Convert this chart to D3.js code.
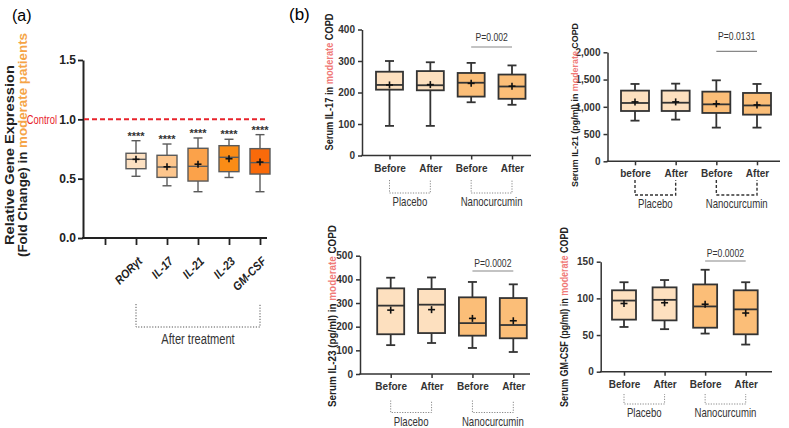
<!DOCTYPE html>
<html><head><meta charset="utf-8">
<script src="https://cdn.jsdelivr.net/npm/d3@7"></script>
<style>
body{margin:0;background:#fff;}
svg{display:block;}
</style></head>
<body><svg id="c" width="789" height="428"></svg>
<script>
// ---------- Panel (a): relative gene expression ----------
const geneCats = ["RORγt","IL-17","IL-21","IL-23","GM-CSF"];
const geneMin  = [0.52,0.44,0.39,0.51,0.39];
const geneQ1   = [0.584,0.511,0.48,0.559,0.539];
const geneMed  = [0.663,0.598,0.604,0.68,0.635];
const geneQ3   = [0.714,0.697,0.756,0.778,0.753];
const geneMax  = [0.82,0.792,0.843,0.832,0.871];
const geneMean = [0.663,0.60,0.622,0.668,0.64];
const geneSig  = ["****","****","****","****","****"];
const geneTicks = [0,0.5,1.0,1.5];
const controlLevel = 1.0;

// ---------- Panel (b): serum cytokines ----------
const groupNames = ["Placebo","Nanocurcumin"];
const timeLabels = ["Before","After","Before","After"];
const timeLabelsIL21 = ["before","After","Before","After"];

const il17Min  = [94,94,169,161];
const il17Q1   = [209,207,187,180];
const il17Med  = [224,223,231,219];
const il17Q3   = [266,268,262,257];
const il17Max  = [300,296,294,286];
const il17Mean = [224,225,229,220];
const il17Ticks = [0,100,200,300,400];
const il17P = "P=0.002";

const il21Min  = [746,765,618,618];
const il21Q1   = [923,923,887,856];
const il21Med  = [1070,1075,1045,1025];
const il21Q3   = [1297,1297,1278,1254];
const il21Max  = [1419,1425,1486,1419];
const il21Mean = [1090,1090,1055,1035];
const il21Ticks = [0,500,1000,1500,2000];
const il21P = "P=0.0131";

const il23Min  = [122,131,110,93];
const il23Q1   = [168,173,162,151];
const il23Med  = [289,293,215,207];
const il23Q3   = [362,359,324,321];
const il23Max  = [407,408,389,379];
const il23Mean = [270,272,235,225];
const il23Ticks = [0,100,200,300,400,500];
const il23P = "P=0.0002";

const gmMin  = [61,58,52,37];
const gmQ1   = [71,70,60,51];
const gmMed  = [97,98,89,85];
const gmQ3   = [111,115,119,111];
const gmMax  = [122,125,139,122];
const gmMean = [93,94,92,80];
const gmTicks = [0,50,100,150];
const gmP = "P=0.0002";

// ---------- styles ----------
const geneColors = ["#FDE1C2","#FDC68D","#FBA24A","#FA8C16","#F96A0A"];
const placeboColor = "#FDE0BF", nanoColor = "#FBBE78";
const salmon = "#F07A78", orangeLbl = "#F5A447";
const SANS = "'Liberation Sans',Arial,sans-serif";

const svg = d3.select("#c");

function narrow(g, x, y, txt, size, sx, fill, anchor){
  return g.append("text").attr("transform",`translate(${x},${y}) scale(${sx},1)`)
    .attr("text-anchor",anchor||"middle").attr("font-family",SANS).attr("font-size",size)
    .attr("fill",fill||"#333").text(txt);
}

function drawBox(g, cx, w, capW, y, mn, q1, md, q3, mx, mean, fill, stroke, sw, plusSize){
  g.append("line").attr("x1",cx).attr("x2",cx).attr("y1",y(mx)).attr("y2",y(q3)).attr("stroke",stroke).attr("stroke-width",sw);
  g.append("line").attr("x1",cx).attr("x2",cx).attr("y1",y(q1)).attr("y2",y(mn)).attr("stroke",stroke).attr("stroke-width",sw);
  g.append("line").attr("x1",cx-capW/2).attr("x2",cx+capW/2).attr("y1",y(mx)).attr("y2",y(mx)).attr("stroke",stroke).attr("stroke-width",sw);
  g.append("line").attr("x1",cx-capW/2).attr("x2",cx+capW/2).attr("y1",y(mn)).attr("y2",y(mn)).attr("stroke",stroke).attr("stroke-width",sw);
  g.append("rect").attr("x",cx-w/2).attr("y",y(q3)).attr("width",w).attr("height",y(q1)-y(q3)).attr("fill",fill).attr("stroke",stroke).attr("stroke-width",sw);
  g.append("line").attr("x1",cx-w/2).attr("x2",cx+w/2).attr("y1",y(md)).attr("y2",y(md)).attr("stroke",stroke).attr("stroke-width",sw);
  const my = y(mean);
  g.append("line").attr("x1",cx-plusSize).attr("x2",cx+plusSize).attr("y1",my).attr("y2",my).attr("stroke","#111").attr("stroke-width",1.6);
  g.append("line").attr("x1",cx).attr("x2",cx).attr("y1",my-plusSize).attr("y2",my+plusSize).attr("stroke","#111").attr("stroke-width",1.6);
}

// ================= Panel (a) =================
svg.append("text").attr("x",12).attr("y",21).attr("font-family",SANS).attr("font-size",16).text("(a)");
{
  const g = svg.append("g");
  const y = d3.scaleLinear().domain([0,1.5]).range([238,60]);
  const x = d3.scalePoint().domain(["", ...geneCats]).range([105,260]);
  const ya = g.append("g").attr("transform","translate(83,0)")
    .call(d3.axisLeft(y).tickValues(geneTicks).tickFormat(d3.format(".1f")).tickSize(5).tickPadding(2).tickSizeOuter(0));
  ya.select(".domain").attr("stroke","#222").attr("stroke-width",2);
  ya.selectAll(".tick line").attr("stroke","#222").attr("stroke-width",1.8);
  ya.selectAll(".tick text").attr("font-family",SANS).attr("font-weight","bold").attr("font-size",12).attr("fill","#222");
  const xa = g.append("g").attr("transform","translate(0,238)")
    .call(d3.axisBottom(x).tickSize(7).tickFormat(""));
  xa.select(".domain").remove();
  xa.selectAll(".tick line").attr("stroke","#222").attr("stroke-width",1.8);
  g.append("line").attr("x1",82).attr("x2",267).attr("y1",238).attr("y2",238).attr("stroke","#222").attr("stroke-width",2);
  geneCats.forEach(c=>{
    g.append("text").attr("transform",`translate(${x(c)+4},${259}) rotate(-45) scale(0.88,1)`)
      .attr("text-anchor","end").attr("dy","0.35em")
      .attr("font-family",SANS).attr("font-weight","bold").attr("font-style","italic").attr("font-size",12).attr("fill","#222").text(c);
  });
  g.append("line").attr("x1",84).attr("x2",267).attr("y1",y(controlLevel)).attr("y2",y(controlLevel))
    .attr("stroke","#E8232B").attr("stroke-width",2).attr("stroke-dasharray","5,3");
  narrow(g, 57, y(controlLevel)+4.5, "Control", 13, 0.72, "#E8232B", "end");
  geneCats.forEach((c,i)=>{
    drawBox(g, x(c), 20, 9, y, geneMin[i], geneQ1[i], geneMed[i], geneQ3[i], geneMax[i], geneMean[i], geneColors[i], "#5a5a5a", 1.4, 3.5);
    g.append("text").attr("x",x(c)).attr("y",y(geneMax[i])-1).attr("text-anchor","middle")
      .attr("font-family",SANS).attr("font-weight","bold").attr("font-size",11).attr("fill","#333").text(geneSig[i]);
  });
  g.append("text").attr("transform","translate(14,155) rotate(-90)").attr("text-anchor","middle")
    .attr("font-family",SANS).attr("font-weight","bold").attr("font-size",12.5).attr("fill","#222")
    .attr("textLength",180).attr("lengthAdjust","spacingAndGlyphs").text("Relative Gene Expression");
  const t2 = g.append("text").attr("transform","translate(27,145) rotate(-90)").attr("text-anchor","middle")
    .attr("font-family",SANS).attr("font-weight","bold").attr("font-size",12.5).attr("fill","#222")
    .attr("textLength",224).attr("lengthAdjust","spacingAndGlyphs");
  t2.append("tspan").text("(Fold Change) in ");
  t2.append("tspan").attr("fill",orangeLbl).text("moderate patients");
  const x0 = x(geneCats[0]), x1 = x(geneCats[geneCats.length-1]);
  g.append("path").attr("d",`M${x0},304V327H${x1}V304`).attr("fill","none").attr("stroke","#555").attr("stroke-width",1).attr("stroke-dasharray","1.2,1.6");
  narrow(g, (x0+x1)/2, 344, "After treatment", 15, 0.74, "#333");
}

// ================= Panel (b) =================
svg.append("text").attr("x",289).attr("y",20).attr("font-family",SANS).attr("font-size",17).text("(b)");

function panelB(o){
  const g = svg.append("g");
  const y = d3.scaleLinear().domain([0,o.ticks[o.ticks.length-1]]).range([o.y0,o.yTop]);
  const keys = o.labels.map((l,i)=>i);
  const x = d3.scalePoint().domain(keys).range([o.xFirst,o.xLast]);
  const ya = g.append("g").attr("transform",`translate(${o.axisX},0)`)
    .call(d3.axisLeft(y).tickValues(o.ticks).tickSize(4).tickPadding(3).tickSizeOuter(0));
  ya.select(".domain").attr("stroke","#333").attr("stroke-width",1.5);
  ya.selectAll(".tick line").attr("stroke","#333").attr("stroke-width",1.5);
  ya.selectAll(".tick text").attr("font-family",SANS).attr("font-weight","bold").attr("font-size",10).attr("fill","#333");
  const xa = g.append("g").attr("transform",`translate(0,${o.y0})`)
    .call(d3.axisBottom(x).tickSize(4).tickFormat(i=>o.labels[i]).tickPadding(5));
  xa.select(".domain").remove();
  xa.selectAll(".tick line").attr("stroke","#333").attr("stroke-width",1.5);
  xa.selectAll(".tick text").attr("font-family",SANS).attr("font-weight","bold").attr("font-size",10).attr("fill","#333");
  g.append("line").attr("x1",o.axisX-0.75).attr("x2",o.xEnd).attr("y1",o.y0).attr("y2",o.y0).attr("stroke","#333").attr("stroke-width",1.5);
  keys.forEach(i=>{
    drawBox(g, x(i), o.boxW, 9, y, o.mn[i], o.q1[i], o.md[i], o.q3[i], o.mx[i], o.mean[i], i<2?placeboColor:nanoColor, "#333", 1.8, 3.5);
  });
  g.append("line").attr("x1",x(2)).attr("x2",x(3)).attr("y1",o.pY).attr("y2",o.pY).attr("stroke","#888").attr("stroke-width",1.2);
  narrow(g, (x(2)+x(3))/2, o.pY-o.pGap, o.p, 11.5, 0.75, "#333");
  [[0,1],[2,3]].forEach((pr,k)=>{
    const a=x(pr[0]), b=x(pr[1]);
    g.append("path").attr("d",`M${a},${o.bTop}V${o.bBot}H${b}V${o.bTop}`).attr("fill","none")
      .attr("stroke",o.bold?"#333":"#888").attr("stroke-width",o.bold?1.4:1).attr("stroke-dasharray",o.bold?"3,2":"1.2,1.4");
    narrow(g, (a+b)/2, o.bBot+13, groupNames[k], 12, 0.8, "#333");
  });
  const t = g.append("text").attr("transform",`translate(${o.labX},${o.labY}) rotate(-90)`).attr("text-anchor","middle")
    .attr("font-family",SANS).attr("font-weight","bold").attr("font-size",o.labSize).attr("fill","#222")
    .attr("textLength",o.labLen).attr("lengthAdjust","spacingAndGlyphs");
  t.append("tspan").text(o.labA);
  t.append("tspan").attr("fill",salmon).text("moderate");
  t.append("tspan").text(" COPD");
}

panelB({ticks:il17Ticks, y0:155.5, yTop:29.5, axisX:362, xEnd:531, xFirst:389.5, xLast:512, labels:timeLabels,
  mn:il17Min,q1:il17Q1,md:il17Med,q3:il17Q3,mx:il17Max,mean:il17Mean, boxW:27,
  p:il17P, pY:47, pGap:6, bTop:180, bBot:193, bold:false,
  labX:333, labY:82, labSize:10, labLen:137, labA:"Serum IL-17 in "});

panelB({ticks:il21Ticks, y0:161.3, yTop:52.3, axisX:607.5, xEnd:780, xFirst:635, xLast:757, labels:timeLabelsIL21,
  mn:il21Min,q1:il21Q1,md:il21Med,q3:il21Q3,mx:il21Max,mean:il21Mean, boxW:28,
  p:il21P, pY:51.3, pGap:11, bTop:180, bBot:195, bold:true,
  labX:578, labY:105, labSize:9.5, labLen:164, labA:"Serum IL-21 (pg/ml) in "});

panelB({ticks:il23Ticks, y0:374, yTop:255.7, axisX:360, xEnd:530, xFirst:390.7, xLast:513.3, labels:timeLabels,
  mn:il23Min,q1:il23Q1,md:il23Med,q3:il23Q3,mx:il23Max,mean:il23Mean, boxW:27,
  p:il23P, pY:271, pGap:4, bTop:400.5, bBot:412.5, bold:false,
  labX:336, labY:316, labSize:10, labLen:182, labA:"Serum IL-23 (pg/ml) in "});

panelB({ticks:gmTicks, y0:371.7, yTop:261.7, axisX:600.7, xEnd:772, xFirst:624, xLast:745.7, labels:timeLabels,
  mn:gmMin,q1:gmQ1,md:gmMed,q3:gmQ3,mx:gmMax,mean:gmMean, boxW:24,
  p:gmP, pY:261, pGap:4, bTop:394, bBot:404, bold:false,
  labX:568, labY:317, labSize:10, labLen:180, labA:"Serum GM-CSF (pg/ml) in "});
</script></body></html>
